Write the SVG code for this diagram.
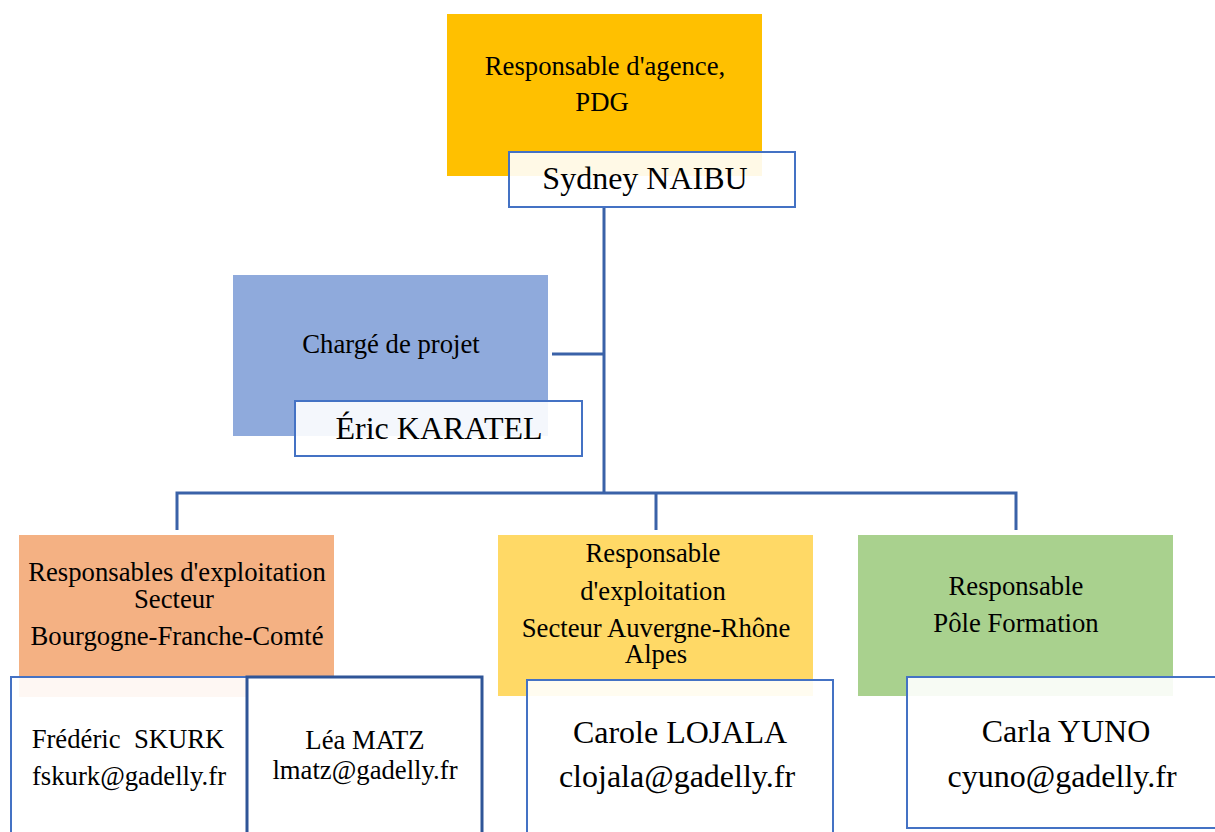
<svg xmlns="http://www.w3.org/2000/svg" width="1215" height="832" viewBox="0 0 1215 832">
<style>
text{fill:#000;text-anchor:middle}
.t{font-size:26.7px}
.n{font-size:32px}
.nb{fill:#fff;fill-opacity:0.9;stroke:#4472C4;stroke-width:2}
.conn{stroke:#3A62A8;stroke-width:3;fill:none}
</style>
<rect width="1215" height="832" fill="#fff"/>
<g id="connectors">
<path class="conn" d="M604 207V493M552 354H604M177 530V493H1016V530M656 493V530"/>
</g>
<g id="pdg">
<rect x="447" y="14" width="315" height="162" fill="#FFC000"/>
<text class="t" font-family="Liberation Serif" x="605" y="75">Responsable d'agence,</text>
<text class="t" font-family="Liberation Serif" x="602" y="111">PDG</text>
<rect class="nb" x="509" y="152" width="286" height="55"/>
<text class="n" font-family="Liberation Serif" x="645" y="189">Sydney NAIBU</text>
</g>
<g id="projet">
<rect x="233" y="275" width="315" height="161" fill="#8FAADC"/>
<text class="t" font-family="Liberation Serif" x="391" y="353">Chargé de projet</text>
<rect class="nb" x="295" y="401" width="287" height="55"/>
<text class="n" font-family="Liberation Serif" x="439" y="439">Éric KARATEL</text>
</g>
<g id="bfc">
<rect x="19" y="535" width="315" height="162" fill="#F4B183"/>
<text class="t" font-family="Liberation Serif" x="177" y="581">Responsables d'exploitation</text>
<text class="t" font-family="Liberation Serif" x="174" y="608">Secteur</text>
<text class="t" font-family="Liberation Serif" x="177" y="645">Bourgogne-Franche-Comté</text>
<rect class="nb" x="11" y="677" width="236" height="160"/>
<text class="t" font-family="Liberation Serif" x="128" y="748" xml:space="preserve">Frédéric  SKURK</text>
<text class="t" font-family="Liberation Serif" x="129" y="785">fskurk@gadelly.fr</text>
<rect x="247" y="677" width="235" height="160" fill="#fff" stroke="#2F5597" stroke-width="3"/>
<text class="t" font-family="Liberation Serif" x="365" y="749">Léa MATZ</text>
<text class="t" font-family="Liberation Serif" x="365" y="779">lmatz@gadelly.fr</text>
</g>
<g id="ara">
<rect x="498" y="535" width="315" height="161" fill="#FFD966"/>
<text class="t" font-family="Liberation Serif" x="653" y="562">Responsable</text>
<text class="t" font-family="Liberation Serif" x="653" y="600">d'exploitation</text>
<text class="t" font-family="Liberation Serif" x="656" y="637">Secteur Auvergne-Rhône</text>
<text class="t" font-family="Liberation Serif" x="656" y="663">Alpes</text>
<rect class="nb" x="527" y="680" width="306" height="155"/>
<text class="n" font-family="Liberation Serif" x="680" y="743">Carole LOJALA</text>
<text class="n" font-family="Liberation Serif" x="677" y="787">clojala@gadelly.fr</text>
</g>
<g id="formation">
<rect x="858" y="535" width="315" height="161" fill="#A9D18E"/>
<text class="t" font-family="Liberation Serif" x="1016" y="595">Responsable</text>
<text class="t" font-family="Liberation Serif" x="1016" y="632">Pôle Formation</text>
<rect class="nb" x="907" y="677" width="312" height="151"/>
<text class="n" font-family="Liberation Serif" x="1066" y="742">Carla YUNO</text>
<text class="n" font-family="Liberation Serif" x="1062" y="787">cyuno@gadelly.fr</text>
</g>
</svg>
